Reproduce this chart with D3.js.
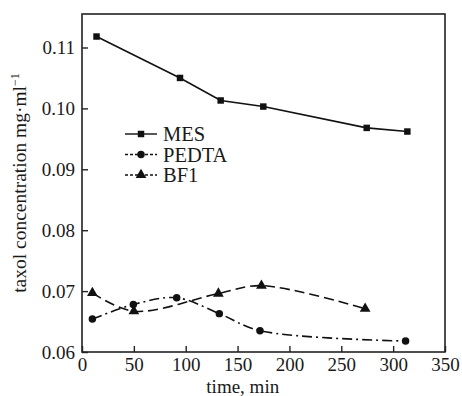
<!DOCTYPE html>
<meta charset="UTF-8">
<style>
  body { margin: 0; background: #fff; }
  text { font-family: "Liberation Serif", "Times New Roman", serif; fill: #1a1a1a; }
  .frame { fill: none; stroke: #222; stroke-width: 1.6px; }
</style>
<body>
<div class="chart"></div>
<script src="https://d3js.org/d3.v7.min.js"></script>
<script>
// time (min) and concentration (mg/ml)
var mesT   = [14, 94.5, 133.7, 174.8, 274.5, 313.7];
var mesV   = [0.1118, 0.1050, 0.1013, 0.1003, 0.0968, 0.0962];
var pedtaT = [10, 49.5, 91.3, 132.4, 171.6, 312];
var pedtaV = [0.0654, 0.0678, 0.0689, 0.0663, 0.0635, 0.0618];
var bf1T   = [10, 50, 131.5, 173, 273];
var bf1V   = [0.0697, 0.0667, 0.0696, 0.0709, 0.0671];
var xTicks = [0, 50, 100, 150, 200, 250, 300, 350];
var yTicks = [0.06, 0.07, 0.08, 0.09, 0.10, 0.11];
var seriesNames = ["MES", "PEDTA", "BF1"];

var width = 462, height = 396;
var margin = {left: 82, right: 17, top: 14, bottom: 44};

var svg = d3.select(".chart").append("svg")
    .attr("width", width)
    .attr("height", height);

var x = d3.scaleLinear().domain([0, 350]).range([margin.left, width - margin.right]);
var y = d3.scaleLinear().domain([0.06, 0.1155]).range([height - margin.bottom, margin.top]);

// axes, ticks pointing inward
var xAxis = svg.append("g")
    .attr("transform", "translate(0," + (height - margin.bottom) + ")")
    .call(d3.axisBottom(x).tickValues(xTicks).tickSize(-6).tickPadding(6).tickFormat(d3.format("d")));
var yAxis = svg.append("g")
    .attr("transform", "translate(" + margin.left + ",0)")
    .call(d3.axisLeft(y).tickValues(yTicks).tickSize(-6).tickPadding(7).tickFormat(d3.format(".2f")));

[xAxis, yAxis].forEach(function (a) {
  a.attr("font-family", null);
  a.select(".domain").remove();
  a.selectAll(".tick line").attr("stroke", "#222").attr("stroke-width", 1.4);
  a.selectAll(".tick text").attr("font-size", 19).attr("fill", "#1a1a1a");
});

svg.append("rect").attr("class", "frame")
    .attr("x", margin.left).attr("y", margin.top)
    .attr("width", width - margin.right - margin.left)
    .attr("height", height - margin.bottom - margin.top);

// axis titles
svg.append("text")
    .attr("x", x(155)).attr("y", 393)
    .attr("text-anchor", "middle").attr("font-size", 19)
    .text("time, min");

var ylab = svg.append("text")
    .attr("transform", "translate(26," + ((margin.top + height - margin.bottom) / 2) + ") rotate(-90)")
    .attr("text-anchor", "middle").attr("font-size", 19.5);
ylab.append("tspan").text("taxol concentration mg\u00b7ml");
ylab.append("tspan").attr("dy", -7).attr("font-size", 12).text("\u22121");

function zip(ts, vs) { return ts.map(function (t, i) { return [t, vs[i]]; }); }

var series = [
  {name: seriesNames[0], data: zip(mesT, mesV), dash: null, sym: d3.symbolSquare, size: 42, curve: d3.curveLinear},
  {name: seriesNames[1], data: zip(pedtaT, pedtaV), dash: "10,4,2,4", sym: d3.symbolCircle, size: 44, curve: d3.curveCatmullRom.alpha(0.5)},
  {name: seriesNames[2], data: zip(bf1T, bf1V), dash: "10,5", sym: d3.symbolTriangle, size: 50, curve: d3.curveCatmullRom.alpha(0.5)}
];

series.forEach(function (s) {
  var line = d3.line()
      .x(function (d) { return x(d[0]); })
      .y(function (d) { return y(d[1]); })
      .curve(s.curve);
  svg.append("path")
      .datum(s.data)
      .attr("d", line)
      .attr("fill", "none")
      .attr("stroke", "#111")
      .attr("stroke-width", 1.6)
      .attr("stroke-dasharray", s.dash);
  svg.selectAll(null).data(s.data).enter().append("path")
      .attr("d", d3.symbol().type(s.sym).size(s.size))
      .attr("transform", function (d) { return "translate(" + x(d[0]) + "," + y(d[1]) + ")"; })
      .attr("fill", "#111");
});

// legend
var legend = svg.append("g").attr("transform", "translate(125,134)");
series.forEach(function (s, i) {
  var g = legend.append("g").attr("transform", "translate(0," + (i * 20.5) + ")");
  g.append("line").attr("x1", 0).attr("x2", 32).attr("y1", 0).attr("y2", 0)
      .attr("stroke", "#111").attr("stroke-width", 1.4)
      .attr("stroke-dasharray", i === 0 ? null : "3,2");
  g.append("path").attr("d", d3.symbol().type(s.sym).size(s.size))
      .attr("transform", "translate(16,0)").attr("fill", "#111");
  g.append("text").attr("x", 38).attr("y", 7).attr("font-size", 20.5).text(s.name);
});
</script>
</body>
